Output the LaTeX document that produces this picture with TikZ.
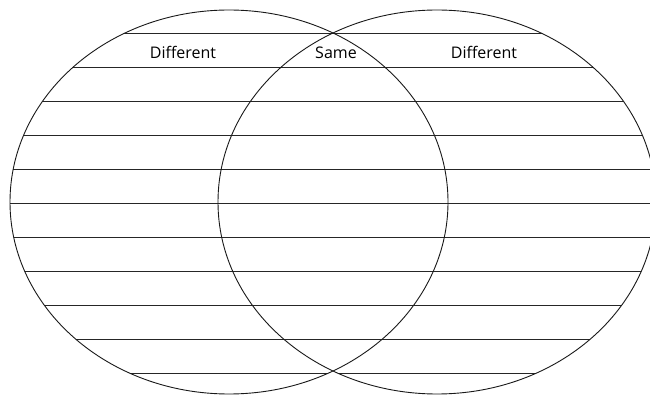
\documentclass[tikz,border=0pt]{standalone}
\usepackage{fontspec}
\setmainfont{Open Sans}
\begin{document}
\begin{tikzpicture}[x=1pt,y=-1pt,
  rule/.style={draw=black!85,line width=0.8pt},
  rim/.style={draw=black!90,line width=0.9pt},
  lab/.style={font=\fontsize{16}{18}\selectfont,inner sep=0pt,anchor=base}]
\useasboundingbox (0,0) rectangle (650,395);
\begin{scope}
  \clip (229,202) ellipse [x radius=219, y radius=192];
  \foreach \k in {0,...,10} {\draw[rule] (0,33.5+34*\k) -- (650,33.5+34*\k);}
\end{scope}
\begin{scope}
  \clip (437,202) ellipse [x radius=219, y radius=192];
  \foreach \k in {0,...,10} {\draw[rule] (0,33.5+34*\k) -- (650,33.5+34*\k);}
\end{scope}
\draw[rim] (229,202) ellipse [x radius=219, y radius=192];
\draw[rim] (437,202) ellipse [x radius=219, y radius=192];
\node[lab] (diffL) at (183,58.3) {Different};
\node[lab] (same) at (336,58.3) {Same};
\node[lab] (diffR) at (484,58.3) {Different};
\end{tikzpicture}
\end{document}
